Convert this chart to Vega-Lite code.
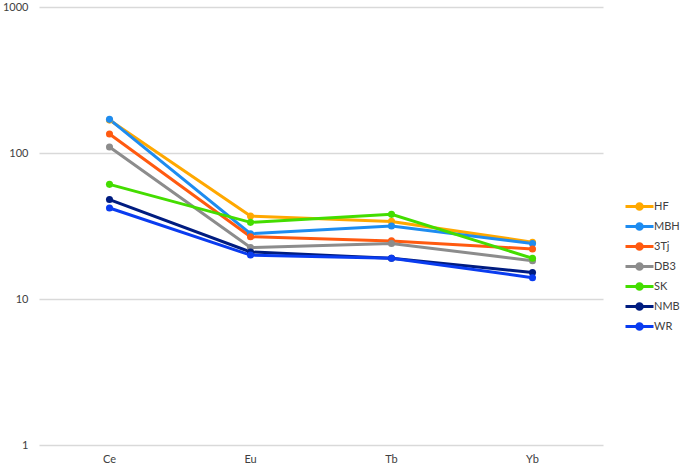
{
  "$schema": "https://vega.github.io/schema/vega-lite/v6.json",
  "width": 564,
  "height": 438,
  "padding": {"left": 39, "top": 7, "right": 82, "bottom": 25},
  "autosize": {"type": "none"},
  "background": "white",
  "config": {
    "view": {"stroke": null},
    "font": "Lato",
    "axis": {"labelFont": "Lato", "labelFontSize": 11, "labelColor": "#404040"},
    "legend": {"labelFont": "Lato", "labelFontSize": 11, "labelColor": "#404040"}
  },
  "data": {
    "values": [
      {"series": "HF", "element": "Ce", "value": 168},
      {"series": "HF", "element": "Eu", "value": 37},
      {"series": "HF", "element": "Tb", "value": 34},
      {"series": "HF", "element": "Yb", "value": 24.5},
      {"series": "MBH", "element": "Ce", "value": 170},
      {"series": "MBH", "element": "Eu", "value": 28},
      {"series": "MBH", "element": "Tb", "value": 31.6},
      {"series": "MBH", "element": "Yb", "value": 24},
      {"series": "3Tj", "element": "Ce", "value": 135},
      {"series": "3Tj", "element": "Eu", "value": 26.7},
      {"series": "3Tj", "element": "Tb", "value": 25},
      {"series": "3Tj", "element": "Yb", "value": 22},
      {"series": "DB3", "element": "Ce", "value": 110},
      {"series": "DB3", "element": "Eu", "value": 22.5},
      {"series": "DB3", "element": "Tb", "value": 24},
      {"series": "DB3", "element": "Yb", "value": 18.3},
      {"series": "SK", "element": "Ce", "value": 61},
      {"series": "SK", "element": "Eu", "value": 33.5},
      {"series": "SK", "element": "Tb", "value": 38},
      {"series": "SK", "element": "Yb", "value": 19},
      {"series": "NMB", "element": "Ce", "value": 48},
      {"series": "NMB", "element": "Eu", "value": 21},
      {"series": "NMB", "element": "Tb", "value": 19},
      {"series": "NMB", "element": "Yb", "value": 15.2},
      {"series": "WR", "element": "Ce", "value": 42},
      {"series": "WR", "element": "Eu", "value": 20},
      {"series": "WR", "element": "Tb", "value": 19},
      {"series": "WR", "element": "Yb", "value": 14}
    ]
  },
  "mark": {"type": "line", "strokeWidth": 3, "point": {"filled": true, "size": 50}},
  "encoding": {
    "x": {
      "field": "element",
      "type": "nominal",
      "sort": ["Ce", "Eu", "Tb", "Yb"],
      "scale": {"type": "band", "paddingInner": 0, "paddingOuter": 0},
      "axis": {"title": null, "labelAngle": 0, "ticks": false, "domain": false, "grid": false, "labelPadding": 8}
    },
    "y": {
      "field": "value",
      "type": "quantitative",
      "scale": {"type": "log", "domain": [1, 1000], "nice": false},
      "axis": {
        "title": null,
        "values": [1, 10, 100, 1000],
        "format": "d",
        "ticks": false,
        "domain": false,
        "grid": true,
        "gridColor": "#d9d9d9",
        "gridWidth": 1.5,
        "labelPadding": 11
      }
    },
    "color": {
      "field": "series",
      "type": "nominal",
      "scale": {
        "domain": ["HF", "MBH", "3Tj", "DB3", "SK", "NMB", "WR"],
        "range": ["#FFA800", "#1E8CF0", "#FF5A10", "#8C8C8C", "#44DD00", "#001C80", "#0A3CF0"]
      },
      "legend": {
        "title": null,
        "orient": "none",
        "legendX": 592,
        "legendY": 191,
        "padding": 0,
        "symbolType": "M-2,0H2M-0.4,0a0.4,0.4 0 1,0 0.8,0a0.4,0.4 0 1,0 -0.8,0",
        "symbolSize": 196,
        "symbolStrokeWidth": 3,
        "labelOffset": 6,
        "rowPadding": 1,
        "encode": {
          "symbols": {"update": {"fill": {"scale": "color", "field": "value"}, "fillOpacity": {"value": 1}}}
        }
      }
    }
  }
}
